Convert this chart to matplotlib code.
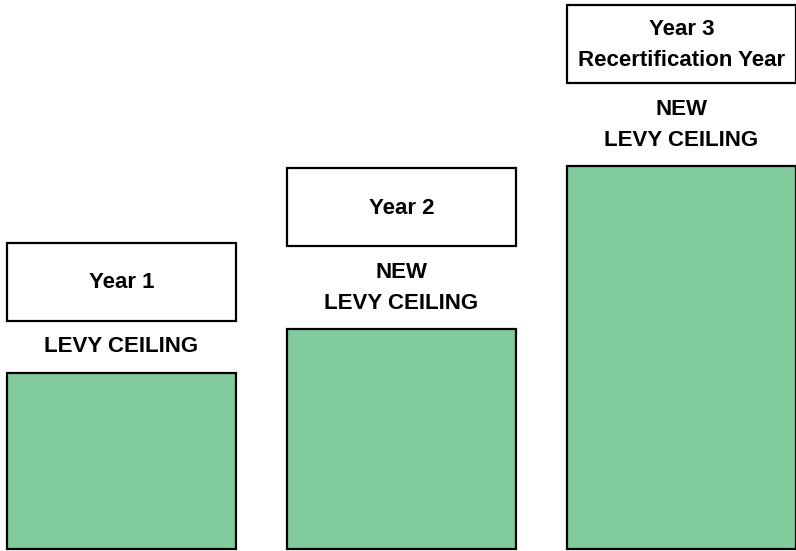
import matplotlib.pyplot as plt
from matplotlib.patches import Rectangle

plt.rcParams['font.family'] = ['Liberation Sans', 'DejaVu Sans']

years = ["Year 1", "Year 2", "Year 3\nRecertification Year"]
ceilings = ["LEVY CEILING", "NEW\nLEVY CEILING", "NEW\nLEVY CEILING"]
heights = [176, 220, 383]  # bar heights (relative units)

fig = plt.figure(figsize=(7.96, 5.51), dpi=100)
ax = fig.add_axes([0, 0, 1, 1])
ax.set_xlim(0, 796)
ax.set_ylim(-2, 549)
ax.axis('off')

lefts = [7, 287, 567]
width = 229
green = '#82cb9d'

ax.bar(lefts, heights, width=width, align='edge', color=green,
       edgecolor='black', linewidth=1.6)

# year boxes sit above the bar top, ceiling label in between
box_h = 78
gap = [52, 83, 83]
for i, (x, h) in enumerate(zip(lefts, heights)):
    box_bottom = h + gap[i]
    ax.add_patch(Rectangle((x, box_bottom), width, box_h, facecolor='white',
                           edgecolor='black', linewidth=1.6))
    ax.text(x + width / 2, box_bottom + box_h / 2 - 1, years[i], ha='center',
            va='center', fontsize=16, fontweight='bold', linespacing=1.6)
    ax.text(x + width / 2, h + 26 if i == 0 else h + 41, ceilings[i],
            ha='center', va='center', fontsize=16, fontweight='bold',
            linespacing=1.6)

fig.savefig('out.png', dpi=100)
